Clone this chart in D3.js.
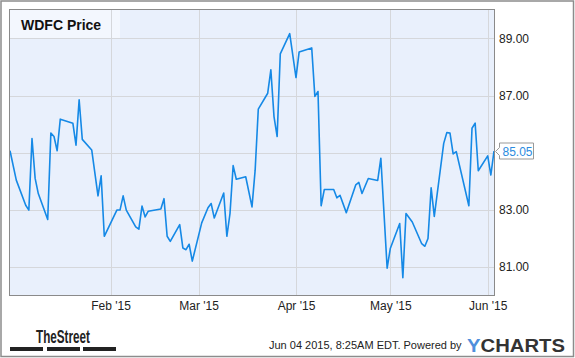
<!DOCTYPE html>
<html>
<head>
<meta charset="utf-8">
<script src="https://cdn.jsdelivr.net/npm/d3@7/dist/d3.min.js"></script>
<style>
  body { margin: 0; background: #fff; }
  text { font-family: "Liberation Sans", Arial, sans-serif; }
</style>
</head>
<body>
<div id="chart"></div>
<script>
// WDFC closing prices, Dec 31 2014 - Jun 3 2015
var dates = [
  "2014-12-31","2015-01-02","2015-01-05","2015-01-06","2015-01-07","2015-01-08","2015-01-09",
  "2015-01-12","2015-01-13","2015-01-14","2015-01-15","2015-01-16","2015-01-20","2015-01-21",
  "2015-01-22","2015-01-23","2015-01-26","2015-01-28","2015-01-29","2015-01-30","2015-02-03",
  "2015-02-04","2015-02-05","2015-02-06","2015-02-09","2015-02-10","2015-02-11","2015-02-12",
  "2015-02-13","2015-02-17","2015-02-18","2015-02-19","2015-02-20","2015-02-23","2015-02-24",
  "2015-02-25","2015-02-26","2015-02-27","2015-03-02","2015-03-04","2015-03-05","2015-03-06",
  "2015-03-09","2015-03-10","2015-03-11","2015-03-12","2015-03-13","2015-03-16","2015-03-18",
  "2015-03-19","2015-03-20","2015-03-23","2015-03-24","2015-03-25","2015-03-26","2015-03-27",
  "2015-03-30","2015-04-01","2015-04-02","2015-04-06","2015-04-07","2015-04-08","2015-04-09",
  "2015-04-10","2015-04-13","2015-04-14","2015-04-15","2015-04-17","2015-04-20","2015-04-21",
  "2015-04-22","2015-04-24","2015-04-27","2015-04-28","2015-04-30","2015-05-01","2015-05-04",
  "2015-05-05","2015-05-06","2015-05-08","2015-05-11","2015-05-12","2015-05-13","2015-05-14",
  "2015-05-15","2015-05-18","2015-05-19","2015-05-20","2015-05-21","2015-05-22","2015-05-26",
  "2015-05-27","2015-05-28","2015-05-29","2015-06-01","2015-06-02","2015-06-03"
];
var prices = [
  85.06, 84.03, 83.15, 82.98, 85.49, 84.09, 83.56,
  82.65, 85.68, 85.56, 85.06, 86.17, 86.03, 85.26,
  86.85, 85.46, 85.09, 83.48, 84.18, 82.06, 82.98,
  82.98, 83.48, 82.98, 82.39, 82.31, 83.12, 82.74,
  82.94, 83.02, 83.38, 82.06, 81.88, 82.47, 81.65,
  81.59, 81.78, 81.19, 82.53, 83.06, 83.21, 82.70,
  83.58, 82.06, 82.86, 84.54, 84.06, 84.15, 83.09,
  84.38, 86.52, 87.08, 87.90, 86.26, 85.56, 88.46,
  89.17, 87.63, 88.53, 88.67, 86.97, 87.14, 83.13,
  83.70, 83.70, 83.41, 83.50, 82.89, 83.86, 83.95,
  83.56, 84.09, 84.02, 84.80, 80.94, 81.63, 82.51,
  80.61, 82.86, 82.56, 81.80, 81.71, 81.98, 83.76,
  82.76, 85.32, 85.70, 85.68, 84.95, 85.03, 83.13,
  85.85, 86.03, 84.36, 84.88, 84.21, 85.05
];
var yTicks = [81, 83, 85, 87, 89];
var xTicks = ["2015-02-01", "2015-03-01", "2015-04-01", "2015-05-01", "2015-06-01"];
var title = "WDFC Price";
var lastLabel = "85.05";

var W = 575, H = 358;
var plotL = 10, plotT = 10, plotR = 494, plotB = 295;
var parse = d3.timeParse("%Y-%m-%d");

var data = dates.map(function(d, i) { return { date: parse(d), price: prices[i] }; });

var x = d3.scaleTime()
  .domain([parse("2014-12-31"), parse("2015-06-03")])
  .range([plotL, plotR]);
var y = d3.scaleLinear().domain([80, 90]).range([plotB, plotT]);

var svg = d3.select("#chart").append("svg")
  .attr("width", W).attr("height", H);

svg.append("rect").attr("x", 1).attr("y", 1).attr("width", W - 2.5).attr("height", H - 2.5)
  .attr("fill", "#fff").attr("stroke", "#8c8c8c").attr("stroke-width", 1.5);

// plot background
svg.append("rect").attr("x", plotL).attr("y", plotT)
  .attr("width", plotR - plotL).attr("height", plotB - plotT)
  .attr("fill", "#e9f0fc");

// title box
svg.append("rect").attr("x", plotL).attr("y", plotT).attr("width", 110).attr("height", 29)
  .attr("fill", "#f3f7fe");

// grid
svg.append("g").selectAll("line").data(yTicks).enter().append("line")
  .attr("x1", plotL).attr("x2", plotR)
  .attr("y1", function(d) { return Math.round(y(d)) + 0.5; })
  .attr("y2", function(d) { return Math.round(y(d)) + 0.5; })
  .attr("stroke", "#d5d7db").attr("stroke-width", 1);

svg.append("g").selectAll("line").data(xTicks).enter().append("line")
  .attr("x1", function(d) { return Math.round(x(parse(d))) + 0.5; })
  .attr("x2", function(d) { return Math.round(x(parse(d))) + 0.5; })
  .attr("y1", plotT).attr("y2", plotB)
  .attr("stroke", "#d5d7db").attr("stroke-width", 1);

svg.append("text").attr("x", 21).attr("y", 30)
  .attr("font-size", 14).attr("font-weight", "bold").attr("fill", "#111")
  .text(title);

// price line
var line = d3.line()
  .x(function(d) { return x(d.date); })
  .y(function(d) { return y(d.price); });

svg.append("path").datum(data)
  .attr("d", line)
  .attr("fill", "none")
  .attr("stroke", "#1589e6")
  .attr("stroke-width", 1.6)
  .attr("stroke-linejoin", "round");

// plot frame
svg.append("rect").attr("x", plotL - 0.5).attr("y", plotT - 0.5)
  .attr("width", plotR - plotL + 1).attr("height", plotB - plotT + 1)
  .attr("fill", "none").attr("stroke", "#8a8a8a").attr("stroke-width", 1);

var last = data[data.length - 1];
var ly = Math.round(y(last.price)) + 0.5;

// y axis labels (right); the one under the last-value callout is hidden
var yAxis = d3.axisRight(y).tickValues(yTicks).tickSize(0).tickPadding(5)
  .tickFormat(d3.format(".2f"));
var gy = svg.append("g").attr("transform", "translate(" + plotR + ",0)").call(yAxis);
gy.select(".domain").remove();
gy.selectAll("text").attr("font-size", 12).attr("fill", "#222")
  .attr("font-family", "'Liberation Sans', Arial, sans-serif");
gy.selectAll(".tick").filter(function(d) { return Math.abs(y(d) - ly) < 14; }).remove();

// x axis labels
var xAxis = d3.axisBottom(x).tickValues(xTicks.map(parse)).tickSize(0).tickPadding(6)
  .tickFormat(d3.timeFormat("%b '%y"));
var gx = svg.append("g").attr("transform", "translate(0," + plotB + ")").call(xAxis);
gx.select(".domain").remove();
gx.selectAll("text").attr("font-size", 12).attr("fill", "#222")
  .attr("font-family", "'Liberation Sans', Arial, sans-serif");

// last value callout
var lx = plotR + 1.5;
svg.append("path")
  .attr("d", "M" + lx + "," + ly + " L" + (lx + 4) + "," + (ly - 4) + " L" + (lx + 4) + "," + (ly - 8.5) +
        " L" + (lx + 38) + "," + (ly - 8.5) + " L" + (lx + 38) + "," + (ly + 7.5) +
        " L" + (lx + 4) + "," + (ly + 7.5) + " L" + (lx + 4) + "," + (ly + 4) + " Z")
  .attr("fill", "#fff").attr("stroke", "#999").attr("stroke-width", 1);
svg.append("text").attr("x", lx + 7).attr("y", ly + 4.5)
  .attr("font-size", 12).attr("fill", "#2b8be0")
  .text(lastLabel);

// footer: TheStreet logo
svg.append("text").attr("x", 36).attr("y", 343)
  .attr("font-size", 18).attr("font-weight", "bold").attr("fill", "#222")
  .attr("textLength", 54).attr("lengthAdjust", "spacingAndGlyphs")
  .text("TheStreet");
svg.append("g").selectAll("rect").data([10, 47, 83]).enter().append("rect")
  .attr("x", function(d) { return d; }).attr("y", 347).attr("width", 33).attr("height", 4)
  .attr("fill", "#222");

// footer: timestamp and YCharts
svg.append("text").attr("x", 269).attr("y", 349)
  .attr("font-size", 11).attr("fill", "#222")
  .text("Jun 04 2015, 8:25AM EDT.  Powered by");
var yc = svg.append("text").attr("x", 467).attr("y", 352)
  .attr("font-size", 18).attr("font-weight", "bold")
  .attr("textLength", 98).attr("lengthAdjust", "spacingAndGlyphs");
yc.append("tspan").attr("fill", "#4f8fdc").text("Y");
yc.append("tspan").attr("fill", "#333").text("CHARTS");
</script>
</body>
</html>
